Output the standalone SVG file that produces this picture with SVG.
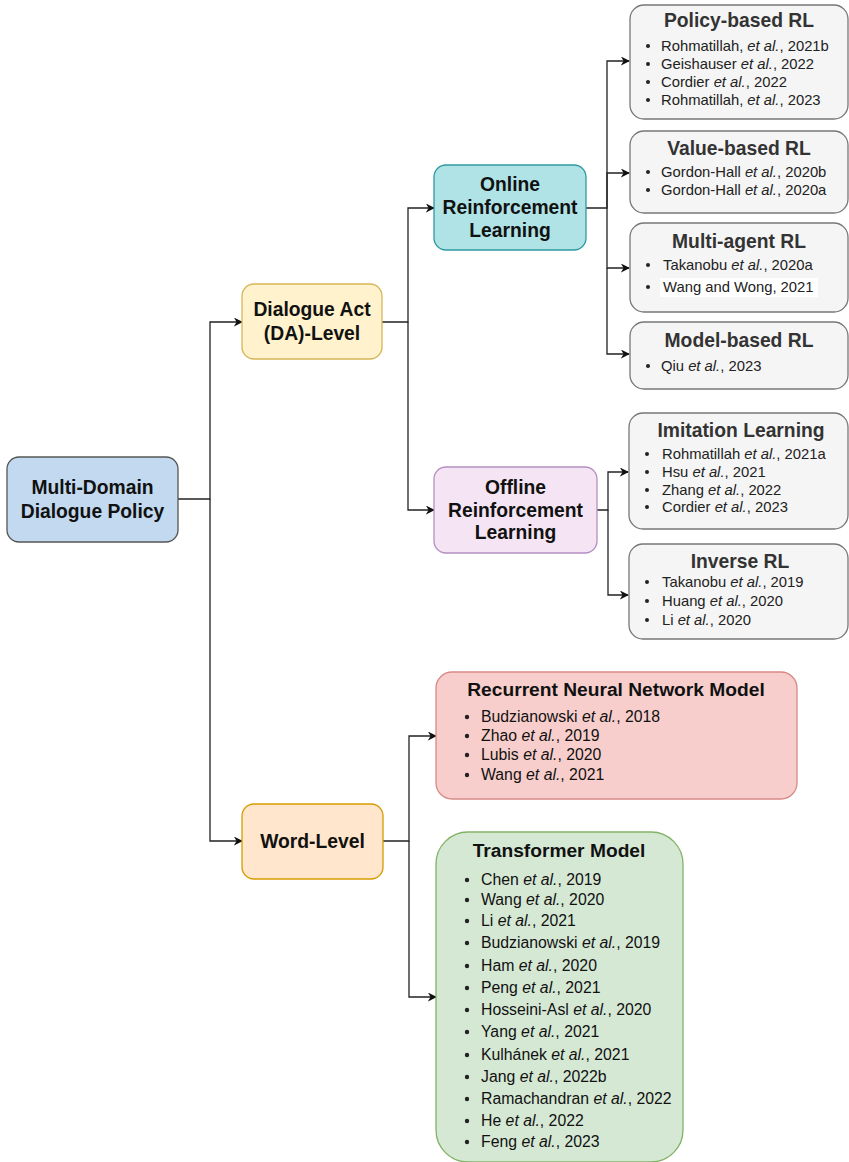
<svg xmlns="http://www.w3.org/2000/svg" width="849" height="1162" viewBox="0 0 849 1162">
  <style>
    .node { stroke-width: 1.3; }
    .head { font-family: "Liberation Sans", Arial, sans-serif; font-weight: bold; font-size: 19.3px; fill: #111; text-anchor: middle; dominant-baseline: central; }
    .title { font-family: "Liberation Sans", Arial, sans-serif; font-weight: bold; font-size: 19.3px; fill: #333; text-anchor: middle; dominant-baseline: central; }
    .ttl2 { font-family: "Liberation Sans", Arial, sans-serif; font-weight: bold; font-size: 19.2px; fill: #111; text-anchor: middle; dominant-baseline: central; }
    .item { font-family: "Liberation Sans", Arial, sans-serif; font-size: 14.8px; fill: #222; dominant-baseline: central; }
    .item2 { font-family: "Liberation Sans", Arial, sans-serif; font-size: 15.8px; fill: #111; dominant-baseline: central; }
    .it { font-style: italic; }
    .dot { fill: #222; }
    .gray { fill: #f5f5f5; stroke: #777; }
    .wire { fill: none; stroke: #222; stroke-width: 1.3; }
  </style>
  <defs>
    <marker id="arrow" viewBox="0 0 10 10" refX="9" refY="5" markerWidth="9" markerHeight="9" markerUnits="userSpaceOnUse" orient="auto">
      <path d="M0,0 L10,5 L0,10 L3,5 Z" fill="#111"/>
    </marker>
  </defs>

  <!-- connectors -->
  <g id="connectors">
    <path class="wire" d="M178,499 H210 V322 H242" marker-end="url(#arrow)"/>
    <path class="wire" d="M210,499 V841 H242" marker-end="url(#arrow)"/>
    <path class="wire" d="M382,322 H408 V208 H434" marker-end="url(#arrow)"/>
    <path class="wire" d="M408,322 V510 H434" marker-end="url(#arrow)"/>
    <path class="wire" d="M586,208 H607 V61 H629" marker-end="url(#arrow)"/>
    <path class="wire" d="M607,208 V173 H629" marker-end="url(#arrow)"/>
    <path class="wire" d="M607,208 V268 H629" marker-end="url(#arrow)"/>
    <path class="wire" d="M607,268 V354 H629" marker-end="url(#arrow)"/>
    <path class="wire" d="M597,510 H608 V472 H628" marker-end="url(#arrow)"/>
    <path class="wire" d="M608,510 V595 H628" marker-end="url(#arrow)"/>
    <path class="wire" d="M383,841 H409 V736 H436" marker-end="url(#arrow)"/>
    <path class="wire" d="M409,841 V997 H436" marker-end="url(#arrow)"/>
  </g>

  <!-- root -->
  <g id="root">
    <rect class="node" x="7" y="457" width="171" height="85" rx="12" fill="#c2d9f0" stroke="#555"/>
    <text class="head" x="92.5" y="487">Multi-Domain</text>
    <text class="head" x="92.5" y="511">Dialogue Policy</text>
  </g>

  <!-- dialogue act level -->
  <g id="da-level">
    <rect class="node" x="242" y="284" width="140" height="75" rx="12" fill="#fff2cc" stroke="#d6b656"/>
    <text class="head" x="312" y="309">Dialogue Act</text>
    <text class="head" x="312" y="333">(DA)-Level</text>
  </g>

  <!-- word level -->
  <g id="word-level">
    <rect class="node" x="242" y="804" width="141" height="75" rx="12" fill="#ffe6cc" stroke="#d79b00"/>
    <text class="head" x="312.5" y="841">Word-Level</text>
  </g>

  <!-- online RL -->
  <g id="online-rl">
    <rect class="node" x="434" y="165" width="152" height="85" rx="12" fill="#b0e3e6" stroke="#2f9aa0"/>
    <text class="head" x="510" y="184">Online</text>
    <text class="head" x="510" y="207">Reinforcement</text>
    <text class="head" x="510" y="230">Learning</text>
  </g>

  <!-- offline RL -->
  <g id="offline-rl">
    <rect class="node" x="434" y="467" width="163" height="86" rx="12" fill="#f5e4f3" stroke="#b58fc4"/>
    <text class="head" x="515.5" y="487">Offline</text>
    <text class="head" x="515.5" y="510">Reinforcement</text>
    <text class="head" x="515.5" y="532">Learning</text>
  </g>

  <!-- policy-based RL -->
  <g id="policy-based">
    <rect class="node gray" x="630" y="5" width="218" height="114" rx="14"/>
    <text class="title" x="739" y="20">Policy-based RL</text>
    <circle class="dot" cx="648" cy="46" r="2"/>
    <text class="item" x="661" y="45.5">Rohmatillah, <tspan class="it">et al.</tspan>, 2021b</text>
    <circle class="dot" cx="648" cy="64" r="2"/>
    <text class="item" x="661" y="63.5">Geishauser <tspan class="it">et al.</tspan>, 2022</text>
    <circle class="dot" cx="648" cy="82" r="2"/>
    <text class="item" x="661" y="82">Cordier <tspan class="it">et al.</tspan>, 2022</text>
    <circle class="dot" cx="648" cy="100" r="2"/>
    <text class="item" x="661" y="100">Rohmatillah, <tspan class="it">et al.</tspan>, 2023</text>
  </g>

  <!-- value-based RL -->
  <g id="value-based">
    <rect class="node gray" x="630" y="131" width="218" height="82" rx="14"/>
    <text class="title" x="739" y="148">Value-based RL</text>
    <circle class="dot" cx="648" cy="172" r="2"/>
    <text class="item" x="661" y="172">Gordon-Hall <tspan class="it">et al.</tspan>, 2020b</text>
    <circle class="dot" cx="648" cy="190" r="2"/>
    <text class="item" x="661" y="190">Gordon-Hall <tspan class="it">et al.</tspan>, 2020a</text>
  </g>

  <!-- multi-agent RL -->
  <g id="multi-agent">
    <rect class="node gray" x="630" y="223" width="218" height="89" rx="14"/>
    <text class="title" x="739" y="241">Multi-agent RL</text>
    <circle class="dot" cx="648" cy="265" r="2"/>
    <text class="item" x="663" y="265">Takanobu <tspan class="it">et al.</tspan>, 2020a</text>
    <rect x="660" y="278" width="158" height="19" fill="#ffffff"/>
    <circle class="dot" cx="648" cy="287" r="2"/>
    <text class="item" x="663" y="287">Wang and Wong, 2021</text>
  </g>

  <!-- model-based RL -->
  <g id="model-based">
    <rect class="node gray" x="630" y="322" width="218" height="67" rx="14"/>
    <text class="title" x="739" y="340">Model-based RL</text>
    <circle class="dot" cx="648" cy="366" r="2"/>
    <text class="item" x="661" y="366">Qiu <tspan class="it">et al.</tspan>, 2023</text>
  </g>

  <!-- imitation learning -->
  <g id="imitation">
    <rect class="node gray" x="629" y="413" width="219" height="116" rx="14"/>
    <text class="title" x="741" y="430">Imitation Learning</text>
    <circle class="dot" cx="647" cy="454" r="2"/>
    <text class="item" x="662" y="454">Rohmatillah <tspan class="it">et al.</tspan>, 2021a</text>
    <circle class="dot" cx="647" cy="472" r="2"/>
    <text class="item" x="662" y="472">Hsu <tspan class="it">et al.</tspan>, 2021</text>
    <circle class="dot" cx="647" cy="490" r="2"/>
    <text class="item" x="662" y="490">Zhang <tspan class="it">et al.</tspan>, 2022</text>
    <circle class="dot" cx="647" cy="507" r="2"/>
    <text class="item" x="662" y="507">Cordier <tspan class="it">et al.</tspan>, 2023</text>
  </g>

  <!-- inverse RL -->
  <g id="inverse">
    <rect class="node gray" x="629" y="544" width="219" height="95" rx="14"/>
    <text class="title" x="740" y="561">Inverse RL</text>
    <circle class="dot" cx="647" cy="582" r="2"/>
    <text class="item" x="662" y="582">Takanobu <tspan class="it">et al.</tspan>, 2019</text>
    <circle class="dot" cx="647" cy="601" r="2"/>
    <text class="item" x="662" y="601">Huang <tspan class="it">et al.</tspan>, 2020</text>
    <circle class="dot" cx="647" cy="620" r="2"/>
    <text class="item" x="662" y="620">Li <tspan class="it">et al.</tspan>, 2020</text>
  </g>

  <!-- recurrent neural network model -->
  <g id="rnn">
    <rect class="node" x="436" y="672" width="361" height="127" rx="16" fill="#f8cecc" stroke="#d68a87"/>
    <text class="ttl2" x="616" y="689">Recurrent Neural Network Model</text>
    <circle class="dot" cx="467" cy="717" r="2.2"/>
    <text class="item2" x="481" y="716">Budzianowski <tspan class="it">et al.</tspan>, 2018</text>
    <circle class="dot" cx="467" cy="736" r="2.2"/>
    <text class="item2" x="481" y="735">Zhao <tspan class="it">et al.</tspan>, 2019</text>
    <circle class="dot" cx="467" cy="755" r="2.2"/>
    <text class="item2" x="481" y="754">Lubis <tspan class="it">et al.</tspan>, 2020</text>
    <circle class="dot" cx="467" cy="775" r="2.2"/>
    <text class="item2" x="481" y="774">Wang <tspan class="it">et al.</tspan>, 2021</text>
  </g>

  <!-- transformer model -->
  <g id="transformer">
    <rect class="node" x="436" y="832" width="247" height="330" rx="32" fill="#d5e8d4" stroke="#82b366"/>
    <text class="ttl2" x="559" y="850">Transformer Model</text>
    <circle class="dot" cx="467" cy="880" r="2.2"/>
    <text class="item2" x="481" y="879">Chen <tspan class="it">et al.</tspan>, 2019</text>
    <circle class="dot" cx="467" cy="900" r="2.2"/>
    <text class="item2" x="481" y="899">Wang <tspan class="it">et al.</tspan>, 2020</text>
    <circle class="dot" cx="467" cy="921" r="2.2"/>
    <text class="item2" x="481" y="920">Li <tspan class="it">et al.</tspan>, 2021</text>
    <circle class="dot" cx="467" cy="943" r="2.2"/>
    <text class="item2" x="481" y="942">Budzianowski <tspan class="it">et al.</tspan>, 2019</text>
    <circle class="dot" cx="467" cy="966" r="2.2"/>
    <text class="item2" x="481" y="965">Ham <tspan class="it">et al.</tspan>, 2020</text>
    <circle class="dot" cx="467" cy="988" r="2.2"/>
    <text class="item2" x="481" y="987">Peng <tspan class="it">et al.</tspan>, 2021</text>
    <circle class="dot" cx="467" cy="1010" r="2.2"/>
    <text class="item2" x="481" y="1009">Hosseini-Asl <tspan class="it">et al.</tspan>, 2020</text>
    <circle class="dot" cx="467" cy="1032" r="2.2"/>
    <text class="item2" x="481" y="1031">Yang <tspan class="it">et al.</tspan>, 2021</text>
    <circle class="dot" cx="467" cy="1055" r="2.2"/>
    <text class="item2" x="481" y="1054">Kulhánek <tspan class="it">et al.</tspan>, 2021</text>
    <circle class="dot" cx="467" cy="1077" r="2.2"/>
    <text class="item2" x="481" y="1076">Jang <tspan class="it">et al.</tspan>, 2022b</text>
    <circle class="dot" cx="467" cy="1099" r="2.2"/>
    <text class="item2" x="481" y="1098">Ramachandran <tspan class="it">et al.</tspan>, 2022</text>
    <circle class="dot" cx="467" cy="1121" r="2.2"/>
    <text class="item2" x="481" y="1120">He <tspan class="it">et al.</tspan>, 2022</text>
    <circle class="dot" cx="467" cy="1142" r="2.2"/>
    <text class="item2" x="481" y="1141">Feng <tspan class="it">et al.</tspan>, 2023</text>
  </g>
</svg>
